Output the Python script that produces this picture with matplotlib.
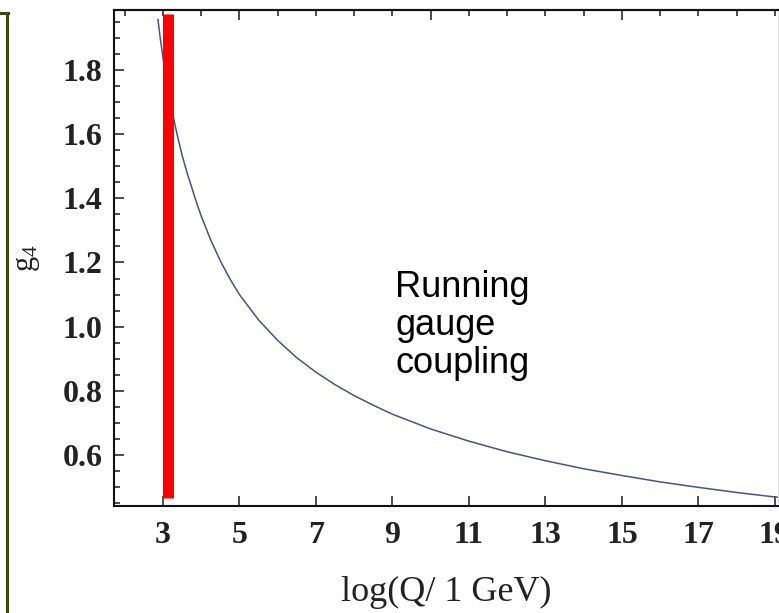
import numpy as np
import matplotlib.pyplot as plt
from matplotlib.lines import Line2D
from matplotlib.ticker import MultipleLocator, FixedLocator, NullFormatter

# running coupling g4 against log(Q / 1 GeV)
log_q = [2.87, 2.94, 3.0, 3.06, 3.125, 3.19, 3.25, 3.375, 3.5, 3.625, 3.75,
         3.875, 4.0, 4.25, 4.5, 4.75, 5.0, 5.5, 6.0, 6.5, 7.0, 7.5, 8.0, 8.5,
         9.0, 10.0, 11.0, 12.0, 13.0, 14.0, 15.0, 16.0, 17.0, 18.0, 19.0, 19.1]
g4 = [1.957, 1.890, 1.840, 1.790, 1.743, 1.702, 1.665, 1.597, 1.535, 1.482,
      1.435, 1.388, 1.345, 1.270, 1.205, 1.149, 1.100, 1.021, 0.957, 0.903,
      0.858, 0.819, 0.785, 0.755, 0.727, 0.681, 0.643, 0.610, 0.582, 0.557,
      0.536, 0.516, 0.499, 0.483, 0.469, 0.468]

# vertical marker at the low-energy end
cutoff_x = 3.12
cutoff_g = [0.466, 1.975]

x_ticks = [3, 5, 7, 9, 11, 13, 15, 17, 19]
y_ticks = [0.6, 0.8, 1.0, 1.2, 1.4, 1.6, 1.8]
top_major = [5, 10, 15]

plt.rcParams['mathtext.fontset'] = 'custom'
plt.rcParams['mathtext.rm'] = 'Liberation Serif'
plt.rcParams['mathtext.it'] = 'Liberation Serif:italic'

fig = plt.figure(figsize=(7.79, 6.13), dpi=100)
ax = fig.add_axes([0.1463, 0.1746, 0.8524, 0.8091])

ax.plot(log_q, g4, color='#4f4f8e', lw=1.1, zorder=2)
ax.plot([cutoff_x, cutoff_x], cutoff_g, color='#ff0000', lw=7.9,
        solid_capstyle='butt', zorder=3)

ax.set_xlim(1.72, 19.08)
ax.set_ylim(0.441, 1.987)

tick_font = dict(family='Liberation Serif', size=23, weight='bold')
ax.xaxis.set_major_locator(FixedLocator(x_ticks))
ax.yaxis.set_major_locator(FixedLocator(y_ticks))
ax.yaxis.set_minor_locator(MultipleLocator(0.05))
ax.set_xticklabels([str(t) for t in x_ticks], **tick_font, color='#222222')
ax.set_yticklabels([f'{t:.1f}' for t in y_ticks], **tick_font, color='#222222')

ax.tick_params(axis='both', which='both', direction='in', width=1.1,
               colors='#1c1c1c', labelcolor='#222222')
ax.tick_params(axis='both', which='major', length=7)
ax.tick_params(axis='both', which='minor', length=4)
ax.tick_params(axis='x', pad=11)
ax.tick_params(axis='y', pad=8)

# unlabeled frame ticks along the top
top = ax.secondary_xaxis('top')
top.xaxis.set_major_locator(FixedLocator(top_major))
top.xaxis.set_minor_locator(MultipleLocator(1))
top.xaxis.set_major_formatter(NullFormatter())
top.tick_params(which='both', direction='in', width=1.1, colors='#1c1c1c')
top.tick_params(which='major', length=7)
top.tick_params(which='minor', length=4)
top.spines['top'].set_linewidth(1.5)

for s in ax.spines.values():
    s.set_linewidth(1.5)
    s.set_color('#111111')
ax.spines['right'].set_linewidth(0.6)
ax.spines['right'].set_color('#dddddd')

ax.set_xlabel('log(Q/ 1 GeV)', family='Liberation Serif', size=26,
              color='#222222', va='top')
ax.xaxis.set_label_coords(0.5, -0.142)
ax.set_ylabel(r'$\mathrm{g}_4$', size=22, color='#222222')
ax.yaxis.set_label_coords(-0.108, 0.5)

ax.text(9.07, 1.175, 'Running\ngauge\ncoupling', family='Liberation Sans',
        size=26, va='top', ha='left', linespacing=1.1, color='black')

# edge of the neighbouring panel frame
frame_kw = dict(color='#3d4a0a', lw=2.2, transform=fig.transFigure)
fig.add_artist(Line2D([0.0, 0.0105], [1 - 13 / 613, 1 - 13 / 613], **frame_kw))
fig.add_artist(Line2D([0.009, 0.009], [0.0, 1 - 13 / 613], **frame_kw))

fig.savefig('out.png', dpi=100)
